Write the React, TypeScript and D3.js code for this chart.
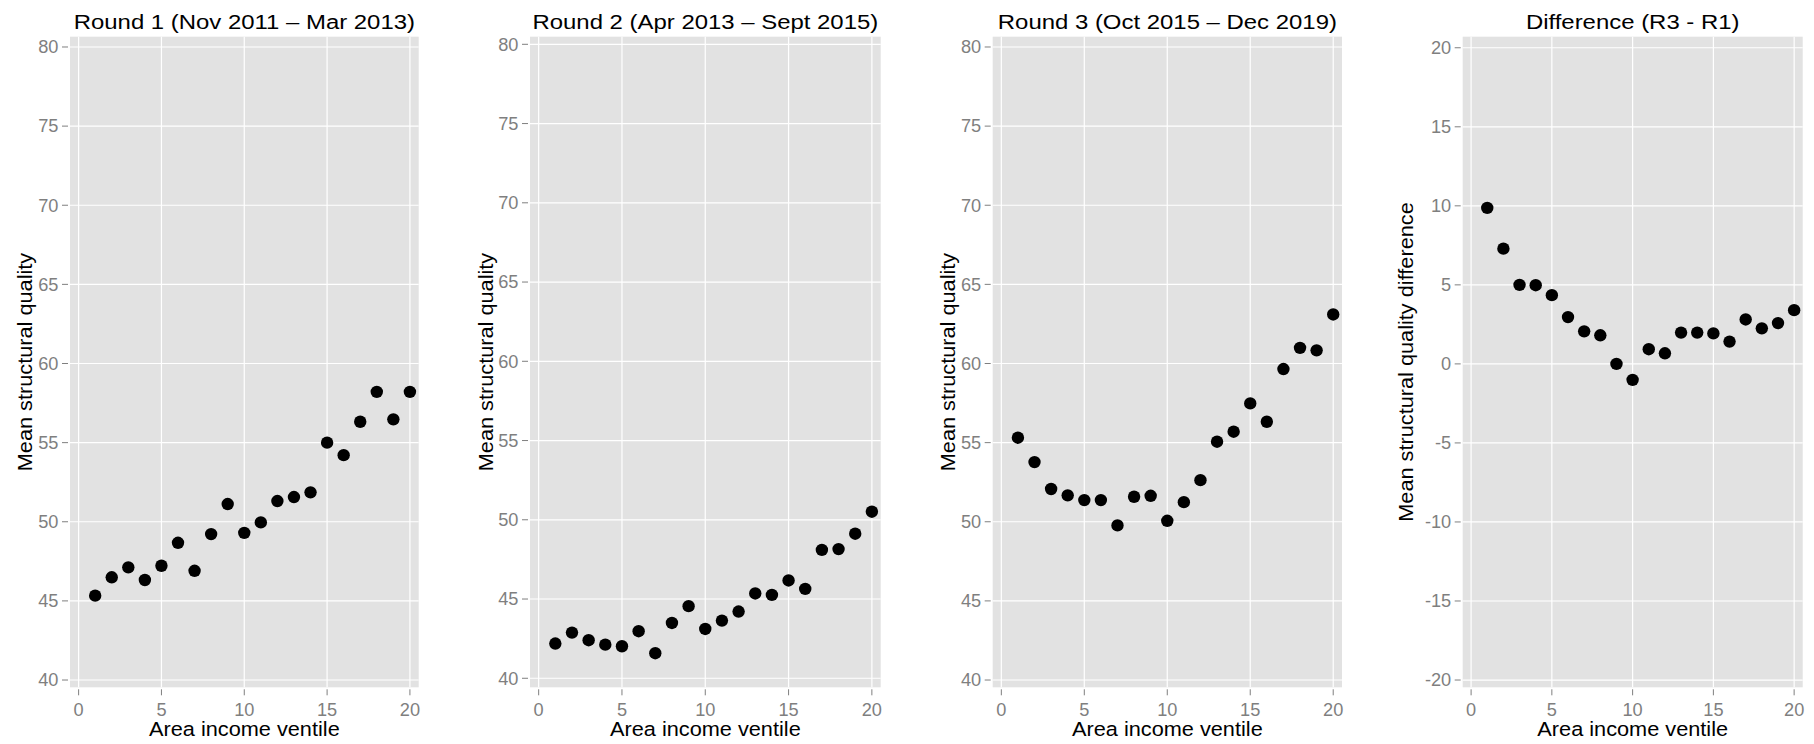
import React from 'react';
import * as d3 from 'd3';

// ventile categories and per-round means
const ventiles = [1, 2, 3, 4, 5, 6, 7, 8, 9, 10, 11, 12, 13, 14, 15, 16, 17, 18, 19, 20];
const round1 = [45.33, 46.49, 47.12, 46.32, 47.22, 48.67, 46.9, 49.22, 51.12, 49.3, 49.96, 51.31, 51.56, 51.86, 55.0, 54.21, 56.32, 58.21, 56.47, 58.21];
const round2 = [42.19, 42.88, 42.4, 42.12, 42.02, 42.97, 41.58, 43.49, 44.55, 43.11, 43.64, 44.21, 45.35, 45.26, 46.17, 45.64, 48.1, 48.15, 49.12, 50.51];
const round3 = [55.31, 53.77, 52.07, 51.67, 51.37, 51.37, 49.77, 51.58, 51.64, 50.06, 51.24, 52.63, 55.06, 55.69, 57.48, 56.32, 59.65, 60.99, 60.83, 63.1];
const difference = [9.87, 7.29, 5.0, 4.98, 4.35, 2.96, 2.06, 1.81, 0.0, -1.01, 0.93, 0.67, 1.98, 1.98, 1.93, 1.41, 2.81, 2.25, 2.58, 3.4];

const xTicks = [0, 5, 10, 15, 20];
const qualityTicks = [40, 45, 50, 55, 60, 65, 70, 75, 80];
const diffTicks = [-20, -15, -10, -5, 0, 5, 10, 15, 20];

const titles = [
  'Round 1 (Nov 2011 \u2013 Mar 2013)',
  'Round 2 (Apr 2013 \u2013 Sept 2015)',
  'Round 3 (Oct 2015 \u2013 Dec 2019)',
  'Difference (R3 - R1)',
];
const yTitles = [
  'Mean structural quality',
  'Mean structural quality',
  'Mean structural quality',
  'Mean structural quality difference',
];
const xTitle = 'Area income ventile';

const W = 1814;
const H = 744;
const TOP = 36.7;
const BOTTOM = 687.3;
const FONT = '"Liberation Sans", Arial, Helvetica, sans-serif';
const GREY = '#7f7f7f';

const panels = [
  { left: 70, right: 418.7, yDomain: [39.54, 80.65], values: round1, ticks: qualityTicks, yTitleGap: 38 },
  { left: 530, right: 880.7, yDomain: [39.43, 80.48], values: round2, ticks: qualityTicks, yTitleGap: 37 },
  { left: 992.7, right: 1342, yDomain: [39.54, 80.65], values: round3, ticks: qualityTicks, yTitleGap: 38 },
  { left: 1462.7, right: 1802.7, yDomain: [-20.46, 20.7], values: difference, ticks: diffTicks, yTitleGap: 50 },
];

// the reference glyphs run a little wider than Liberation Sans at the same height
function Label({ x, y, size, sx, anchor = 'middle', fill = '#000', rotate = 0, dy, children }: any) {
  const rot = rotate ? ` rotate(${rotate})` : '';
  return (
    <text
      transform={`translate(${x},${y})${rot} scale(${sx},1)`}
      dy={dy}
      textAnchor={anchor}
      fontSize={size}
      fill={fill}
      fontFamily={FONT}
    >
      {children}
    </text>
  );
}

function Panel({ p, i }: { p: any; i: number }) {
  const x = d3.scaleLinear().domain([-0.52, 20.53]).range([p.left, p.right]);
  const y = d3.scaleLinear().domain(p.yDomain).range([BOTTOM, TOP]);
  const cx = (p.left + p.right) / 2;
  const cy = (TOP + BOTTOM) / 2;

  return (
    <g>
      <rect x={p.left} y={TOP} width={p.right - p.left} height={BOTTOM - TOP} fill="#e2e2e2" />
      {/* grid */}
      {p.ticks.map((t: number) => (
        <line key={'gy' + t} x1={p.left} x2={p.right} y1={y(t)} y2={y(t)} stroke="#fff" strokeWidth={1.2} />
      ))}
      {xTicks.map(t => (
        <line key={'gx' + t} x1={x(t)} x2={x(t)} y1={TOP} y2={BOTTOM} stroke="#fff" strokeWidth={1.2} />
      ))}
      {/* points */}
      {ventiles.map((v, k) => (
        <circle key={'pt' + v} cx={x(v)} cy={y(p.values[k])} r={6.2} fill="#000" />
      ))}
      {/* y axis */}
      {p.ticks.map((t: number) => (
        <g key={'ty' + t}>
          <line x1={p.left - 8} x2={p.left - 2} y1={y(t)} y2={y(t)} stroke={GREY} strokeWidth={1} />
          <Label x={p.left - 11.5} y={y(t)} dy="0.36em" anchor="end" size={17.5} sx={1.04} fill={GREY}>
            {String(t)}
          </Label>
        </g>
      ))}
      {/* x axis */}
      {xTicks.map(t => (
        <g key={'tx' + t}>
          <line x1={x(t)} x2={x(t)} y1={BOTTOM + 2} y2={BOTTOM + 8} stroke={GREY} strokeWidth={1} />
          <Label x={x(t)} y={716} size={17.5} sx={1.04} fill={GREY}>
            {String(t)}
          </Label>
        </g>
      ))}
      <Label x={cx} y={736} size={20.5} sx={1.06}>
        {xTitle}
      </Label>
      <Label x={p.left - p.yTitleGap} y={cy} size={20.5} sx={1.06} rotate={-90}>
        {yTitles[i]}
      </Label>
      <Label x={cx} y={28.5} size={21} sx={1.14}>
        {titles[i]}
      </Label>
    </g>
  );
}

export default function App() {
  return (
    <svg
      width={W}
      height={H}
      viewBox={`0 0 ${W} ${H}`}
      style={{ position: 'absolute', left: 0, top: 0, display: 'block', background: '#fff' }}
    >
      <rect x={0} y={0} width={W} height={H} fill="#fff" />
      {panels.map((p, i) => (
        <Panel key={i} p={p} i={i} />
      ))}
    </svg>
  );
}
